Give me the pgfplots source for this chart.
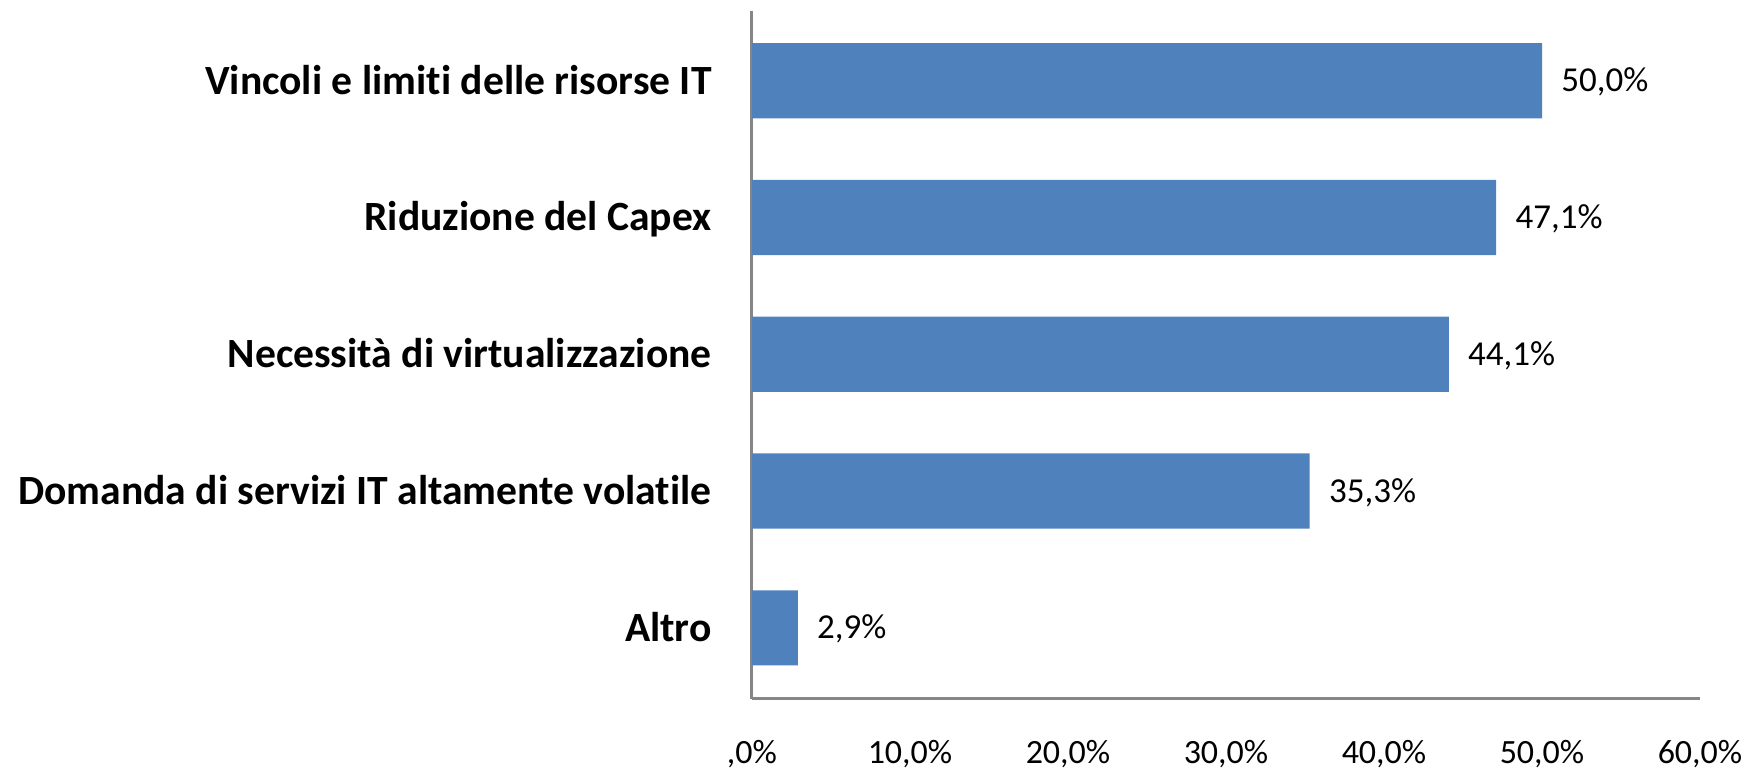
\documentclass[border=0pt]{standalone}
\usepackage{fontspec}
\setmainfont{Carlito}[Ligatures=NoCommon]
\usepackage{pgfplots}
\pgfplotsset{compat=1.18}
\usetikzlibrary{calc}
\definecolor{barblue}{HTML}{4F81BD}
\definecolor{axgray}{HTML}{868686}

\begin{document}
\begin{tikzpicture}
\begin{axis}[
  name=ax,
  scale only axis,
  width=474pt, height=344pt,
  xbar, bar width=0.55,
  xmin=0, xmax=60, ymin=-0.52, ymax=4.51,
  axis lines*=left,
  axis line style={-, draw=axgray, line width=1.5pt},
  major tick length=0pt,
  xtick={0,10,20,30,40,50,60},
  xticklabels={{,0\%},{10,0\%},{20,0\%},{30,0\%},{40,0\%},{50,0\%},{60,0\%}},
  xticklabel style={font=\fontsize{17}{19}\selectfont, anchor=base, yshift=-32.5pt, inner sep=0pt},
  ytick={0,1,2,3,4},
  yticklabels={Altro,Domanda di servizi IT altamente volatile,Necessità di virtualizzazione,Riduzione del Capex,Vincoli e limiti delle risorse IT},
  yticklabel style={font=\fontsize{20.8}{22}\selectfont\bfseries, anchor=base east, xshift=-20pt, yshift=-6.7pt, inner sep=0pt},
  nodes near coords={\pgfmathprintnumber[fixed,fixed zerofill,precision=1,use comma,assume math mode=true]{\pgfplotspointmeta}\%},
  every node near coord/.append style={font=\fontsize{17.5}{19}\selectfont, anchor=base west, xshift=9.5pt, yshift=-5.5pt, inner sep=0pt, text=black},
  clip=false,
]
\addplot[fill=barblue, draw=none] coordinates {
  (2.9,0)
  (35.3,1)
  (44.1,2)
  (47.1,3)
  (50.0,4)};
\end{axis}
\pgfresetboundingbox
\path[use as bounding box] ($(ax.south west)+(-376pt,-35pt)$) rectangle ($(ax.north east)+(27pt,5.5pt)$);
\end{tikzpicture}
\end{document}
